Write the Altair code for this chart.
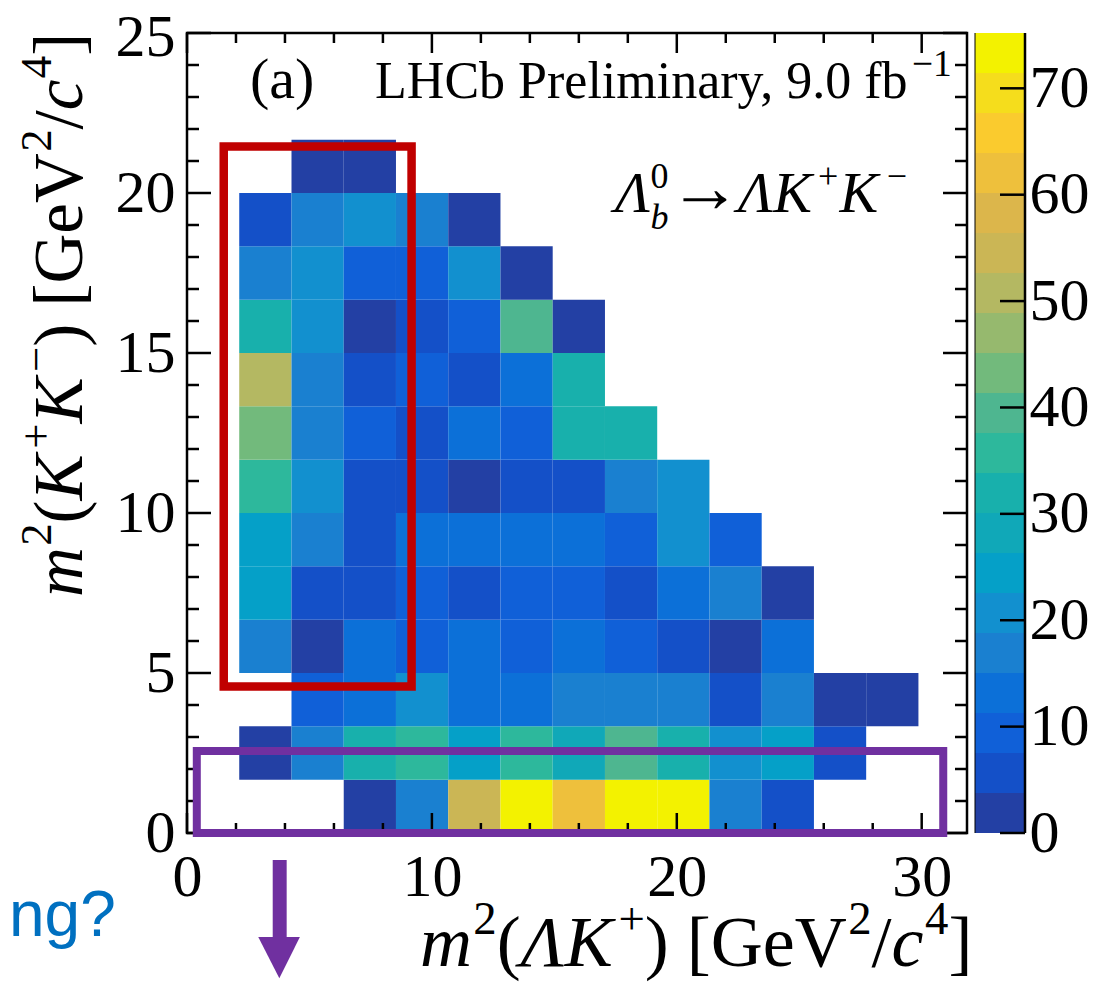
import altair as alt
import pandas as pd

# ---------------- data ----------------
x_edges = [0.0, 2.133, 4.267, 6.4, 8.533, 10.667, 12.8, 14.933, 17.067,
           19.2, 21.333, 23.467, 25.6, 27.733, 29.867, 32.0]
y_edges = [0.0, 1.667, 3.333, 5.0, 6.667, 8.333, 10.0, 11.667, 13.333,
           15.0, 16.667, 18.333, 20.0, 21.667, 23.333, 25.0]

N = None
counts_row00 = [N, N, N, 2, 17, 56, 74, 62, 74, 74, 17, 5.5, N, N, N]
counts_row01 = [N, 2, 17, 32, 35, 24, 35, 28, 39, 32, 20.5, 24, 5.5, N, N]
counts_row02 = [N, N, 9, 13, 20.5, 13, 13, 17, 17, 17, 5.5, 17, 2, 2, N]
counts_row03 = [N, 17, 2, 13, 9, 13, 9, 13, 9, 5.5, 2, 13, N, N, N]
counts_row04 = [N, 24, 5.5, 5.5, 9, 5.5, 9, 9, 5.5, 13, 17, 2, N, N, N]
counts_row05 = [N, 24, 17, 5.5, 13, 13, 13, 13, 9, 20.5, 9, N, N, N, N]
counts_row06 = [N, 35, 20.5, 5.5, 5.5, 2, 5.5, 5.5, 17, 20.5, N, N, N, N, N]
counts_row07 = [N, 43, 17, 9, 5.5, 13, 9, 32, 32, N, N, N, N, N, N]
counts_row08 = [N, 50, 17, 5.5, 9, 5.5, 13, 32, N, N, N, N, N, N, N]
counts_row09 = [N, 32, 20.5, 2, 5.5, 9, 39, 2, N, N, N, N, N, N, N]
counts_row10 = [N, 17, 20.5, 9, 9, 20.5, 2, N, N, N, N, N, N, N, N]
counts_row11 = [N, 5.5, 17, 20.5, 17, 2, N, N, N, N, N, N, N, N, N]
counts_row12 = [N, N, 2, 2, N, N, N, N, N, N, N, N, N, N, N]
count_rows = [counts_row00, counts_row01, counts_row02, counts_row03, counts_row04,
              counts_row05, counts_row06, counts_row07, counts_row08, counts_row09,
              counts_row10, counts_row11, counts_row12]

palette = ["#2340A4", "#1450C8", "#1060D8", "#0C70D8", "#1A80D0", "#1290CF",
           "#05A0C8", "#10A8B8", "#18B0AC", "#2DB89C", "#4EB690", "#72BA7C",
           "#96B96E", "#B4B862", "#CBB655", "#DCB64B", "#EEC03C", "#FACB2E",
           "#F5DD1C", "#F3F200"]

x_ticks_major = [0, 10, 20, 30]
x_ticks_minor = [2, 4, 6, 8, 12, 14, 16, 18, 22, 24, 26, 28]
y_ticks_major = [0, 5, 10, 15, 20, 25]
y_ticks_minor = [1, 2, 3, 4, 6, 7, 8, 9, 11, 12, 13, 14, 16, 17, 18, 19, 21, 22, 23, 24]
z_ticks = [0, 10, 20, 30, 40, 50, 60, 70]

# annotation boxes (data coordinates: x1, x2, y1, y2)
red_box = [1.50, 9.17, 4.58, 21.45]
purple_box = [0.40, 30.88, 0.0, 2.56]

# ---------------- geometry / style ----------------
XMAX, YMAX, ZMAX = 31.85, 25.0, 75.2
W, H = 780, 800
PXX, PXY = W / XMAX, H / YMAX
SERIF = "Liberation Serif"
RED, PURPLE, BLUE = "#C00000", "#7030A0", "#0070C0"

x_scale = alt.Scale(domain=[0, XMAX], nice=False, zero=False)
y_scale = alt.Scale(domain=[0, YMAX], nice=False, zero=False)
c_scale = alt.Scale(type="quantize", domain=[0, ZMAX], range=palette, nice=False, zero=False)

# ---------------- tables ----------------
cells = []
for j, row in enumerate(count_rows):
    for i, v in enumerate(row):
        if v is not None:
            cells.append(dict(x_lo=x_edges[i], x_hi=x_edges[i + 1],
                              y_lo=y_edges[j], y_hi=y_edges[j + 1], count=v))
df_cells = pd.DataFrame(cells)

MAJ_Y, MIN_Y = 24 / PXX, 12 / PXX     # tick lengths on vertical axes (x units)
MAJ_X, MIN_X = 20 / PXY, 10 / PXY     # tick lengths on horizontal axes (y units)
tk = []
for v in y_ticks_major + y_ticks_minor:
    L = MAJ_Y if v in y_ticks_major else MIN_Y
    tk.append(dict(x=0, x2=L, y=v, y2=v))
    tk.append(dict(x=XMAX - L, x2=XMAX, y=v, y2=v))
for v in x_ticks_major + x_ticks_minor:
    L = MAJ_X if v in x_ticks_major else MIN_X
    tk.append(dict(x=v, x2=v, y=0, y2=L))
    tk.append(dict(x=v, x2=v, y=YMAX - L, y2=YMAX))
df_ticks = pd.DataFrame(tk)

# text layout helper (Times metrics; Liberation Serif is metric compatible)
WREG = {' ': 250, '(': 333, ')': 333, '[': 333, ']': 333, '/': 278, ',': 250, '.': 250,
        '+': 564, '\u2212': 564, '\u2192': 1000, 'G': 722, 'e': 444, 'V': 722, 'L': 611,
        'H': 722, 'C': 667, 'b': 500, 'P': 556, 'r': 333, 'l': 278, 'i': 278, 'm': 778,
        'n': 500, 'a': 444, 'y': 500, 'f': 333, '\u039b': 722, 'K': 722}
WITA = {'m': 722, 'c': 444, 'K': 667, '\u039b': 611, 'b': 500}


def text_width(t, italic, fs):
    tot = 0
    for ch in t:
        if ch.isdigit():
            tot += 500
        elif italic and ch in WITA:
            tot += WITA[ch]
        else:
            tot += WREG.get(ch, 500)
    return tot * fs / 1000.0


def layout(runs, x0, y0, size, rotated=False):
    """runs: (text, italic, scale, rise_em, gap_em_before, advance_em or None)"""
    rows, pos = [], 0.0
    for text, italic, scale, rise, gap, adv in runs:
        pos += gap * size
        fs = size * scale
        if rotated:
            x, y = x0 - rise * size / PXX, y0 + pos / PXY
        else:
            x, y = x0 + pos / PXX, y0 + rise * size / PXY
        rows.append(dict(text=text, x=x, y=y, fs=fs, italic=italic, rot=rotated))
        if adv is None:
            pos += text_width(text, italic, fs)
        else:
            pos += adv * size
    return rows


SUP = 0.65
texts = []
texts += layout([("(a)", False, 1, 0, 0, None)], 2.57, 22.97, 58)
texts += layout([("LHCb Preliminary, 9.0 fb", False, 1, 0, 0, None),
                 ("\u22121", False, 0.72, 0.42, 0.02, None)], 7.68, 22.97, 52)
texts += layout([("\u039b", True, 1, 0, 0, None),
                 ("b", True, 0.62, -0.3, 0, 0),
                 ("0", False, 0.62, 0.42, 0, None),
                 ("\u2192", False, 1.25, 0, 0, 0.95),
                 ("\u039bK", True, 1, 0, 0.25, None),
                 ("+", False, 0.62, 0.42, 0.1, None),
                 ("K", True, 1, 0, 0.02, None),
                 ("\u2212", False, 0.62, 0.42, 0.15, None)], 17.48, 19.41, 58)

x_title_runs = [("m", True, 1, 0, 0, None), ("2", False, SUP, 0.45, 0.02, None),
                ("(", False, 1, 0, 0, None), ("\u039b", True, 1, 0, 0, None),
                ("K", True, 1, 0, 0, None), ("+", False, SUP, 0.45, 0.08, None),
                (")", False, 1, 0, 0, None), ("[GeV", False, 1, 0, 0.25, None),
                ("2", False, SUP, 0.45, 0.02, None), ("/", False, 1, 0, 0, None),
                ("c", True, 1, 0, 0, None), ("4", False, SUP, 0.45, 0.02, None),
                ("]", False, 1, 0, 0, None)]
texts += layout(x_title_runs, 9.51, -4.16, 72)

y_title_runs = [("m", True, 1, 0, 0, None), ("2", False, SUP, 0.45, 0.02, None),
                ("(", False, 1, 0, 0, None), ("K", True, 1, 0, 0, None),
                ("+", False, SUP, 0.45, 0.08, None), ("K", True, 1, 0, 0, None),
                ("\u2212", False, SUP, 0.45, 0.08, None), (")", False, 1, 0, 0, None),
                ("[GeV", False, 1, 0, 0.25, None), ("2", False, SUP, 0.45, 0.02, None),
                ("/", False, 1, 0, 0, None), ("c", True, 1, 0, 0, None),
                ("4", False, SUP, 0.45, 0.02, None), ("]", False, 1, 0, 0, None)]
texts += layout(y_title_runs, -4.29, 7.375, 69, rotated=True)
df_text = pd.DataFrame(texts)

# ---------------- layers ----------------
x_axis = alt.Axis(orient="bottom", values=x_ticks_major, title=None, tickSize=0, domain=False,
                  grid=False, labelFont=SERIF, labelFontSize=60, labelPadding=15,
                  labelFlush=False, labelOverlap=False, labelColor="black", format="d")
y_axis = alt.Axis(orient="left", values=y_ticks_major, title=None, tickSize=0, domain=False,
                  grid=False, labelFont=SERIF, labelFontSize=60, labelPadding=12,
                  labelFlush=False, labelOverlap=False, labelColor="black", format="d",
                  labelOffset={"condition": {"test": "datum.value === 25", "value": 4},
                               "value": 0})


def XY(xf="x", yf="y", x2=None, y2=None):
    enc = dict(x=alt.X(f"{xf}:Q", scale=x_scale, axis=None),
               y=alt.Y(f"{yf}:Q", scale=y_scale, axis=None))
    if x2:
        enc["x2"] = alt.X2(f"{x2}:Q")
    if y2:
        enc["y2"] = alt.Y2(f"{y2}:Q")
    return enc


heat = alt.Chart(df_cells).mark_rect().encode(
    x=alt.X("x_lo:Q", scale=x_scale, axis=x_axis), x2="x_hi:Q",
    y=alt.Y("y_lo:Q", scale=y_scale, axis=y_axis), y2="y_hi:Q",
    color=alt.Color("count:Q", scale=c_scale, legend=None))

frame = alt.Chart(pd.DataFrame([dict(x=0, x2=XMAX, y=0, y2=YMAX)])).mark_rect(
    filled=False, stroke="black", strokeWidth=2.5).encode(**XY("x", "y", "x2", "y2"))

ticks = alt.Chart(df_ticks).mark_rule(color="black", strokeWidth=2.5).encode(
    **XY("x", "y", "x2", "y2"))

text_layers = []
for ital in (False, True):
    for rot in (False, True):
        sub = df_text[(df_text.italic == ital) & (df_text.rot == rot)]
        if len(sub) == 0:
            continue
        text_layers.append(alt.Chart(sub).mark_text(
            align="left", baseline="alphabetic", font=SERIF,
            fontStyle="italic" if ital else "normal", angle=270 if rot else 0,
            color="black").encode(**XY(), text="text:N",
                                  size=alt.Size("fs:Q", scale=None)))


def box(b, color, sw):
    d = pd.DataFrame([dict(x=b[0], x2=b[1], y=b[2], y2=b[3])])
    return alt.Chart(d).mark_rect(filled=False, stroke=color, strokeWidth=sw).encode(
        **XY("x", "y", "x2", "y2"))


red = box(red_box, RED, 8.5)
purple = box(purple_box, PURPLE, 8)

shaft = alt.Chart(pd.DataFrame([dict(x=3.50, x2=4.07, y=-3.25, y2=-0.84)])).mark_rect(
    color=PURPLE).encode(**XY("x", "y", "x2", "y2"))
head = alt.Chart(pd.DataFrame(dict(x=[2.91, 3.77, 4.61], y=[-3.25, -3.25, -3.25],
                                   y2=[-3.25, -4.54, -3.25]))).mark_area(
    color=PURPLE, orient="vertical", interpolate="linear").encode(**XY("x", "y", None, "y2"))

blue_txt = alt.Chart(pd.DataFrame([dict(x=-7.27, y=-3.22, text="ng?")])).mark_text(
    align="left", baseline="alphabetic", font="Liberation Sans", fontSize=64,
    color=BLUE).encode(**XY(), text="text:N")

# ---------------- colour bar ----------------
nb = len(palette)
bands = pd.DataFrame(dict(lo=[ZMAX * k / nb for k in range(nb)],
                          hi=[ZMAX * (k + 1) / nb for k in range(nb)],
                          mid=[ZMAX * (k + 0.5) / nb for k in range(nb)],
                          cx0=0.0, cx1=1.0))
cb_x = alt.Scale(domain=[0, 1], range=[W + 8, W + 58])
cb_y = alt.Scale(domain=[0, ZMAX], nice=False, zero=False)
cb_axis = alt.Axis(orient="right", offset=58, values=z_ticks, title=None, tickSize=0,
                   domain=False, grid=False, labelFont=SERIF, labelFontSize=60,
                   labelPadding=4, labelFlush=False, labelOverlap=False,
                   labelColor="black", format="d")
cb_rect = alt.Chart(bands).mark_rect().encode(
    x=alt.X("cx0:Q", scale=cb_x, axis=None), x2="cx1:Q",
    y=alt.Y("lo:Q", scale=cb_y, axis=cb_axis), y2="hi:Q",
    color=alt.Color("mid:Q", scale=c_scale, legend=None))
cb_tk = alt.Chart(pd.DataFrame(dict(v=z_ticks, a=0.5, b=1.0))).mark_rule(
    color="black", strokeWidth=2.5).encode(
    x=alt.X("a:Q", scale=cb_x, axis=None), x2="b:Q",
    y=alt.Y("v:Q", scale=cb_y, axis=None), y2="v:Q")
cb_edge = alt.Chart(pd.DataFrame(dict(a=[0.0, 1.0], lo=0.0, hi=ZMAX, w=[1.0, 2.5]))).mark_rule(
    color="black").encode(
    x=alt.X("a:Q", scale=cb_x, axis=None),
    y=alt.Y("lo:Q", scale=cb_y, axis=None), y2="hi:Q",
    strokeWidth=alt.StrokeWidth("w:Q", scale=None))

chart = alt.layer(
    heat, frame, ticks, *text_layers, red, purple, shaft, head, blue_txt,
    cb_rect, cb_tk, cb_edge,
).resolve_scale(x="independent", y="independent").properties(
    width=W, height=H,
    autosize=alt.AutoSizeParams(type="none"),
    padding={"left": 179, "top": 25, "right": 122, "bottom": 149},
    background="white",
).configure_view(stroke=None)

chart.save("out.html", embed_options={"renderer": "svg", "actions": False})
